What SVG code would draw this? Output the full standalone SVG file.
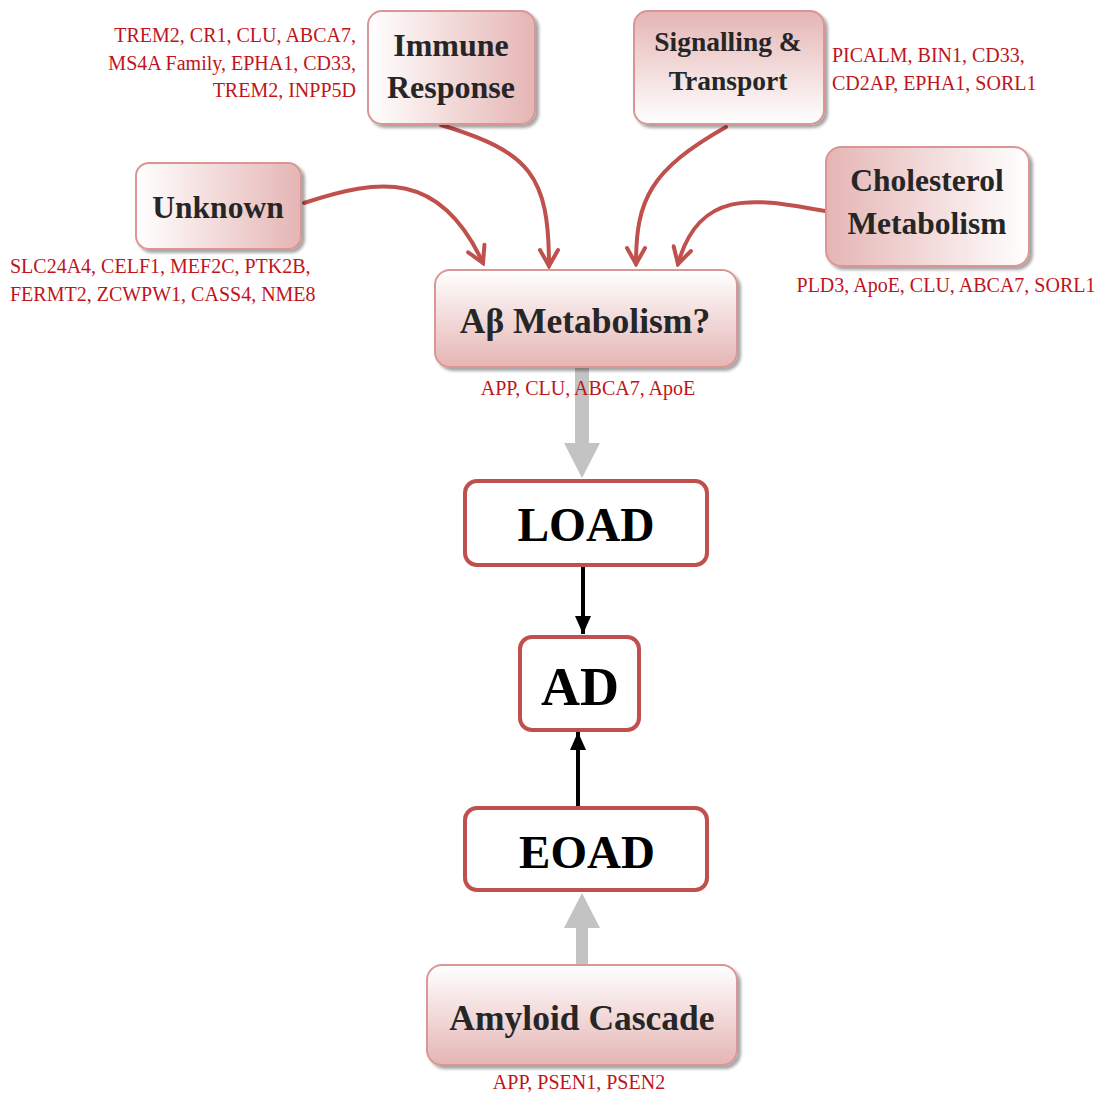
<svg xmlns="http://www.w3.org/2000/svg" width="1105" height="1095" viewBox="0 0 1105 1095">
  <defs>
    <linearGradient id="gLR" x1="0" y1="0" x2="1" y2="0">
      <stop offset="0" stop-color="#ffffff"/>
      <stop offset="1" stop-color="#e5b5b4"/>
    </linearGradient>
    <linearGradient id="gRL" x1="1" y1="0" x2="0" y2="0">
      <stop offset="0" stop-color="#ffffff"/>
      <stop offset="1" stop-color="#e5b5b4"/>
    </linearGradient>
    <linearGradient id="gTB" x1="0" y1="0" x2="0" y2="1">
      <stop offset="0" stop-color="#ffffff"/>
      <stop offset="1" stop-color="#e5b5b4"/>
    </linearGradient>
    <linearGradient id="gBT" x1="0" y1="1" x2="0" y2="0">
      <stop offset="0" stop-color="#ffffff"/>
      <stop offset="1" stop-color="#e5b5b4"/>
    </linearGradient>
    <filter id="shadow" x="-10%" y="-10%" width="125%" height="130%">
      <feDropShadow dx="3" dy="3" stdDeviation="1.5" flood-color="#000" flood-opacity="0.35"/>
    </filter>
    <marker id="redHead" viewBox="0 0 22 22" refX="19" refY="11" markerWidth="22" markerHeight="22" markerUnits="userSpaceOnUse" orient="auto">
      <path d="M3,2 L19,11 L3,20" fill="none" stroke="#c0504d" stroke-width="4" stroke-linecap="round" stroke-linejoin="miter"/>
    </marker>
    <marker id="blackHead" viewBox="0 0 18 18" refX="18" refY="9" markerWidth="18" markerHeight="18" markerUnits="userSpaceOnUse" orient="auto">
      <path d="M0,1 L18,9 L0,17 Z" fill="#000"/>
    </marker>
  </defs>
  <style>
    .soft { stroke: #d99695; stroke-width: 2; filter: url(#shadow); }
    .plain { fill: #fff; stroke: #c0504d; stroke-width: 4; }
    .title { font-family: "Liberation Serif", "Times New Roman", serif; font-weight: bold; fill: #262626; text-anchor: middle; }
    .big { font-family: "Liberation Serif", "Times New Roman", serif; font-weight: bold; fill: #000; text-anchor: middle; }
    .genes { font-family: "Liberation Serif", "Times New Roman", serif; font-size: 20px; fill: #c0141c; }
    .curve { fill: none; stroke: #c0504d; stroke-width: 4; stroke-linecap: round; marker-end: url(#redHead); }
  </style>

  <!-- connectors -->
  <g id="connectors">
    <path class="curve" d="M304,203 C380,178 440,170 483,263"/>
    <path class="curve" d="M441,125 C530,152 549,175 549,266"/>
    <path class="curve" d="M726,127 C650,170 636,200 636,264"/>
    <path class="curve" d="M825,211 C760,200 700,185 678,264"/>
    <!-- broad grey arrows -->
    <path d="M575,367 L589,367 L589,443 L600,443 L582,478 L564,443 L575,443 Z" fill="#c3c3c3"/>
    <path d="M576,965 L588,965 L588,928 L600,928 L582,893 L564,928 L576,928 Z" fill="#c3c3c3"/>
    <!-- black arrows -->
    <line x1="583" y1="566" x2="583" y2="634" stroke="#000" stroke-width="4" marker-end="url(#blackHead)"/>
    <line x1="578" y1="806" x2="578" y2="732" stroke="#000" stroke-width="4" marker-end="url(#blackHead)"/>
  </g>

  <g id="immune">
    <rect class="soft" x="368" y="11" width="167" height="113" rx="14" fill="url(#gLR)"/>
    <text class="title" x="451" y="56" font-size="32">Immune</text>
    <text class="title" x="451" y="98" font-size="32">Response</text>
    <text class="genes" text-anchor="end" x="356" y="42">TREM2, CR1, CLU, ABCA7,</text>
    <text class="genes" text-anchor="end" x="356" y="70">MS4A Family, EPHA1, CD33,</text>
    <text class="genes" text-anchor="end" x="356" y="97">TREM2, INPP5D</text>
  </g>

  <g id="signalling">
    <rect class="soft" x="634" y="11" width="190" height="113" rx="14" fill="url(#gBT)"/>
    <text class="title" x="728" y="51" font-size="27.5">Signalling &amp;</text>
    <text class="title" x="728" y="90" font-size="27.5">Transport</text>
    <text class="genes" x="832" y="62">PICALM, BIN1, CD33,</text>
    <text class="genes" x="832" y="90">CD2AP, EPHA1, SORL1</text>
  </g>

  <g id="unknown">
    <rect class="soft" x="136" y="163" width="165" height="86" rx="13" fill="url(#gLR)"/>
    <text class="title" x="218" y="218" font-size="31.5">Unknown</text>
    <text class="genes" x="10" y="273">SLC24A4, CELF1, MEF2C, PTK2B,</text>
    <text class="genes" x="10" y="301">FERMT2, ZCWPW1, CASS4, NME8</text>
  </g>

  <g id="cholesterol">
    <rect class="soft" x="826" y="147" width="203" height="119" rx="15" fill="url(#gRL)"/>
    <text class="title" x="927" y="191" font-size="31.5">Cholesterol</text>
    <text class="title" x="927" y="234" font-size="31.5">Metabolism</text>
    <text class="genes" text-anchor="middle" x="946" y="292">PLD3, ApoE, CLU, ABCA7, SORL1</text>
  </g>

  <g id="abeta">
    <rect class="soft" x="435" y="270" width="302" height="97" rx="15" fill="url(#gTB)"/>
    <text class="title" x="585" y="333" font-size="35.5">Aβ Metabolism?</text>
    <text class="genes" text-anchor="middle" x="588" y="395">APP, CLU, ABCA7, ApoE</text>
  </g>

  <g id="load">
    <rect class="plain" x="465" y="481" width="242" height="84" rx="12"/>
    <text class="big" x="586" y="541" font-size="47.5">LOAD</text>
  </g>

  <g id="ad">
    <rect class="plain" x="520" y="637" width="119" height="93" rx="12"/>
    <text class="big" x="580" y="705" font-size="54">AD</text>
  </g>

  <g id="eoad">
    <rect class="plain" x="465" y="808" width="242" height="82" rx="12"/>
    <text class="big" x="587" y="868" font-size="47">EOAD</text>
  </g>

  <g id="amyloid">
    <rect class="soft" x="427" y="965" width="310" height="100" rx="15" fill="url(#gTB)"/>
    <text class="title" x="582" y="1030" font-size="35.5">Amyloid Cascade</text>
    <text class="genes" text-anchor="middle" x="579" y="1089">APP, PSEN1, PSEN2</text>
  </g>
</svg>
